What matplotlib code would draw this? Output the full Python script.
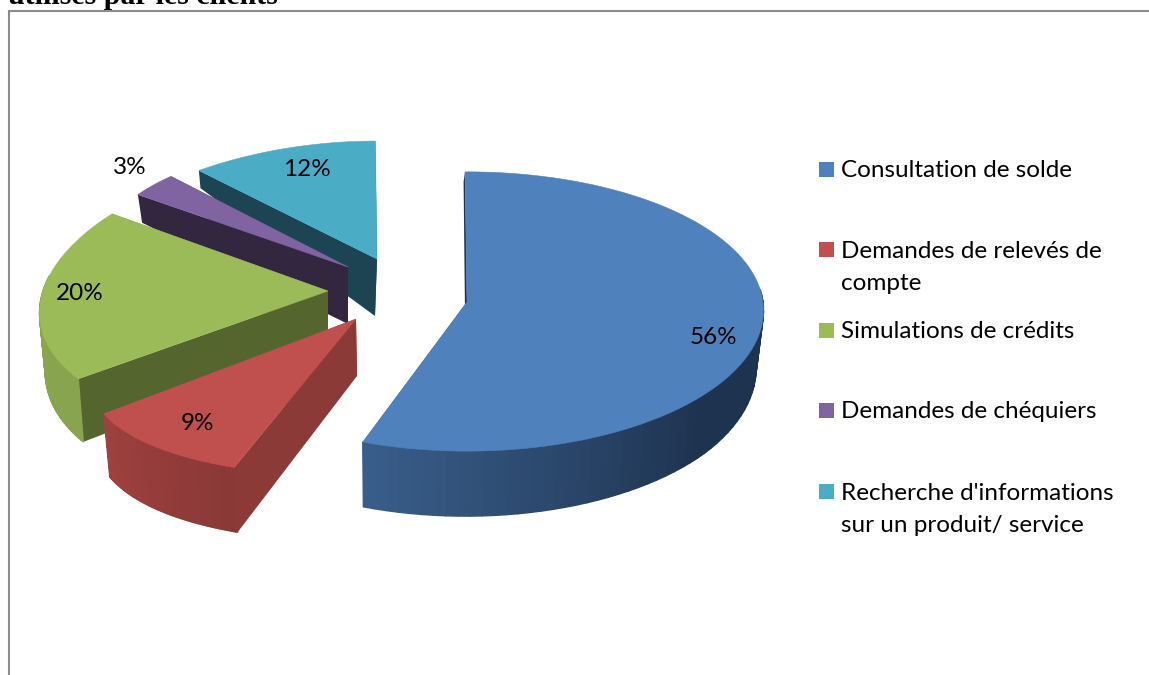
"""Exploded 3D pie of services used by clients, drawn with polygons."""
import matplotlib
matplotlib.use("Agg")
import matplotlib.pyplot as plt
from matplotlib.collections import PolyCollection
from matplotlib.colors import to_rgb
from matplotlib.patches import Polygon, Rectangle
import numpy as np

plt.rcParams["font.family"] = ["Lato", "DejaVu Sans"]

# Data
categories = ["Consultation de solde", "Demandes de relevés de\ncompte",
              "Simulations de crédits", "Demandes de chéquiers",
              "Recherche d'informations\nsur un produit/ service"]
shares = [55.5, 9.2, 20.0, 3.2, 12.1]

# Style, one entry per slice
top_colors = ["#4F81BD", "#C0504D", "#9BBB59", "#8064A2", "#4BACC6"]
face_colors = ["#1E3350", "#8C3A38", "#55652E", "#33263F", "#1D4452"]
wall_dark = ["#1E3350", "#8A3937", "#88A44E", "#33263F", "#1D4452"]
wall_light = ["#3A5F8C", "#A0413F", "#8AA64F", "#33263F", "#1D4452"]
wall_ramp = [(130, 200), (200, 233), (233, 305), (305, 316), (316, 360)]
# apex x, apex y, A, B, px, py, bottom apex shift
geom = [(467, 302, 296, 139, 0.06, 0.068, -1.5),
        (356, 319, 256, 153, 0.32, 0.03, 1),
        (328, 291, 285, 140, 0.155, 0.05, 0),
        (348, 267, 255, 135, 0.0, 0.10, 0),
        (377, 259, 312, 138, 0.30, 0.17, -2)]
label_xy = [(713, 337), (198, 423), (80, 293), (130, 168), (307, 169)]
legend_y = [168.5, 249, 330, 410, 491]
START = -0.4
DEPTH_Y = [-1, -0.6, 0, 0.57, 0.73, 1]
DEPTH_V = [65, 63, 57, 28, 17, 10]
FONT = 17.5


def project(t, g):
    X, Y = np.sin(np.radians(t)), np.cos(np.radians(t))
    return g[2] * X / (1 + g[4] * Y), -g[3] * Y / (1 + g[5] * Y), Y


def rims(t, g):
    x, y, Y = project(t, g)
    top = np.column_stack([g[0] + x, g[1] + y])
    bot = np.column_stack([g[0] + g[6] + 0.98 * x, g[1] + y + np.interp(Y, DEPTH_Y, DEPTH_V)])
    return top, bot


fig = plt.figure(figsize=(11.49, 6.75), dpi=100, facecolor="white")
ax = fig.add_axes([0, 0, 1, 1])
ax.set_xlim(0, 1149)
ax.set_ylim(675, 0)
ax.axis("off")

edges = START + np.cumsum([0] + shares) * 3.6

# back slices first
for i in reversed(range(len(shares))):
    g = geom[i]
    t = np.linspace(edges[i], edges[i + 1], 90)
    top, bot = rims(t, g)
    apex = (g[0], g[1])
    apex_b = (g[0] + g[6], g[1] + np.interp(0, DEPTH_Y, DEPTH_V))

    for k in (0, -1):
        ax.add_patch(Polygon([apex, top[k], bot[k], apex_b], closed=True,
                             fc=face_colors[i], ec="none", zorder=1 + (4 - i) * 3))

    # only the front of the rim shows a wall
    front = np.flatnonzero(np.cos(np.radians(t[:-1])) < 0.1)
    if len(front):
        frac = np.interp(t[:-1][front], wall_ramp[i], [0, 1])[:, None]
        cols = (1 - frac) * np.array(to_rgb(wall_dark[i])) + frac * np.array(to_rgb(wall_light[i]))
        quads = [[top[k], top[k + 1], bot[k + 1], bot[k]] for k in front]
        ax.add_collection(PolyCollection(quads, facecolors=cols, edgecolors=cols, linewidths=1.0,
                                         zorder=2 + (4 - i) * 3))

    ax.add_patch(Polygon(np.vstack([[apex], top]), closed=True, fc=top_colors[i],
                         ec=top_colors[i], lw=0.4, zorder=3 + (4 - i) * 3))

for v, (x, y) in zip(shares, label_xy):
    ax.text(x, y, f"{v:.0f}%", fontsize=FONT, ha="center", va="center", color="black", zorder=40)

# legend
for name, col, y in zip(categories, top_colors, legend_y):
    ax.add_patch(Rectangle((819, y - 7), 15, 15, fc=col, ec="none"))
    for n, line in enumerate(name.split("\n")):
        ax.text(841, y + n * 32.5, line, fontsize=FONT, ha="left", va="center_baseline", color="black")

# chart frame, open on the right and bottom
ax.plot([9, 9, 1149], [675, 11, 11], color="#8C8C8C", lw=1.5, solid_joinstyle="miter")

# heading of the page, cut by the top edge
ax.text(8, 3.5, "utilisés par les clients", fontsize=21.5, fontweight="bold",
        family="Liberation Serif", ha="left", va="baseline", color="black", clip_on=False)

fig.savefig("out.png", dpi=100, facecolor="white")
plt.close(fig)
